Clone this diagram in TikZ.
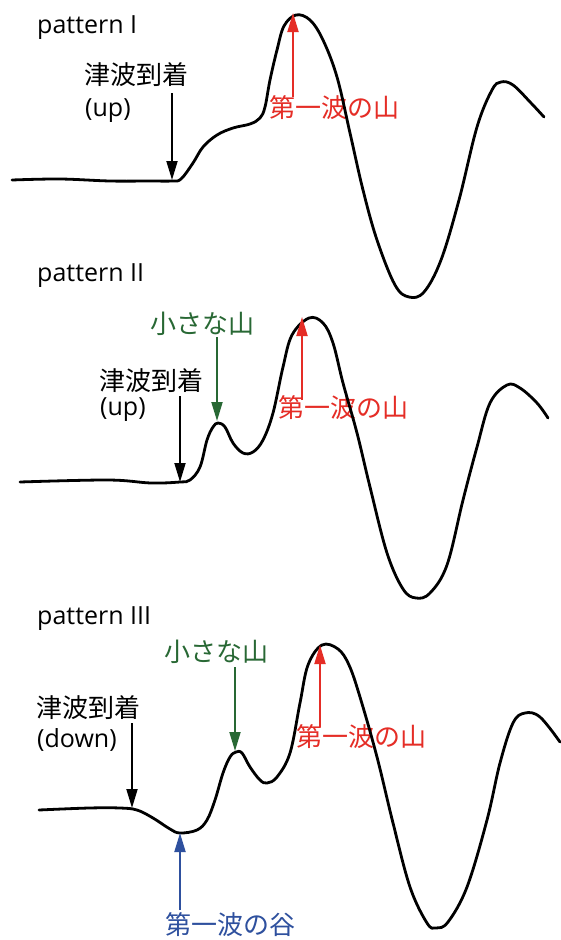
\documentclass[tikz,border=0pt]{standalone}
\usepackage{fontspec}
\setmainfont{Noto Sans CJK JP}
\newfontfamily\latinfont{Open Sans}
\usetikzlibrary{arrows.meta}
\definecolor{cred}{RGB}{229,45,38}
\definecolor{cgreen}{RGB}{40,104,52}
\definecolor{cblue}{RGB}{46,80,158}
\begin{document}
\begin{tikzpicture}[x=1pt,y=-1pt,
  wave/.style={line width=2.8pt, line cap=round, line join=round},
  arr/.style={line width=1.9pt, -{Triangle[length=19pt,width=11pt]}},
  lbl/.style={font=\fontsize{26}{30}\selectfont, inner sep=0pt, anchor=west},
  lat/.style={font=\latinfont\fontsize{25}{30}\selectfont, inner sep=0pt, anchor=west}]
\useasboundingbox[fill=white] (0,0) rectangle (560,940);

% ---------- pattern I ----------
\node[lat] (pat1) at (37,28) {pattern I};
\node[lbl] (t1a) at (84,75) {津波到着};
\node[lat] (t1b) at (85,111) {(up)};
\node[lbl,text=cred] (r1) at (269,108) {第一波の山};
\draw[wave] plot[smooth,tension=0.6] coordinates {(12,180) (60,179) (110,181) (150,181) (172,181) (181,179) (193,163) (203,147) (217,135) (233,128) (250,124) (260,118) (265,107) (270,80) (277,50) (284,26) (296,15) (310,20) (323,40) (337,77) (350,133) (363,190) (377,240) (395,285) (409,297) (424,292) (441,260) (459,200) (477,127) (492,90) (501,82) (513,85) (531,103) (544,117)};
\coordinate (a1s) at (172,93);   \coordinate (a1e) at (172,180);
\coordinate (r1s) at (293,97);   \coordinate (r1e) at (293,13);
\draw[arr] (a1s) -- (a1e);
\draw[arr,cred] (r1s) -- (r1e);

% ---------- pattern II ----------
\node[lat] (pat2) at (37,276) {pattern II};
\node[lbl] (t2a) at (99,381) {津波到着};
\node[lat] (t2b) at (100,410) {(up)};
\node[lbl,text=cgreen] (g2) at (150,324) {小さな山};
\node[lbl,text=cred] (r2) at (278,408) {第一波の山};
\draw[wave] plot[smooth,tension=0.6] coordinates {(20,482) (108,480) (151,483) (180,482) (190,480) (200,467) (207,440) (213,427) (218,423) (225,427) (233,443) (243,453) (253,452) (263,440) (273,413) (283,367) (292,335) (309,318) (323,323) (333,343) (343,383) (357,433) (370,487) (387,553) (403,589) (416,598) (430,593) (447,565) (463,500) (477,447) (490,403) (507,385) (520,388) (537,403) (548,418)};
\coordinate (a2s) at (180,396);  \coordinate (a2e) at (180,482);
\coordinate (g2s) at (217,337);  \coordinate (g2e) at (217,421);
\coordinate (r2s) at (302,400);  \coordinate (r2e) at (302,317);
\draw[arr] (a2s) -- (a2e);
\draw[arr,cgreen] (g2s) -- (g2e);
\draw[arr,cred] (r2s) -- (r2e);

% ---------- pattern III ----------
\node[lat] (pat3) at (37,619) {pattern III};
\node[lbl] (t3a) at (36,708) {津波到着};
\node[lat] (t3b) at (37,740) {(down)};
\node[lbl,text=cgreen] (g3) at (164,652) {小さな山};
\node[lbl,text=cred] (r3) at (296,737) {第一波の山};
\node[lbl,text=cblue] (b3) at (165,925) {第一波の谷};
\draw[wave] plot[smooth,tension=0.6] coordinates {(39,810) (89,808) (120,808) (137,810) (153,818) (170,829) (180,833) (197,830) (207,820) (215,800) (223,773) (230,757) (236,752) (242,753) (250,767) (260,780) (267,783) (277,777) (290,753) (300,703) (308,665) (322,645) (338,649) (349,665) (360,697) (377,757) (393,823) (410,887) (427,923) (436,928) (448,922) (467,887) (487,820) (500,763) (513,723) (525,713) (540,717) (560,742)};
\coordinate (a3s) at (132,723);  \coordinate (a3e) at (132,808);
\coordinate (g3s) at (235,667);  \coordinate (g3e) at (235,751);
\coordinate (r3s) at (320,727);  \coordinate (r3e) at (320,645);
\coordinate (b3s) at (180,910);  \coordinate (b3e) at (180,833);
\draw[arr] (a3s) -- (a3e);
\draw[arr,cgreen] (g3s) -- (g3e);
\draw[arr,cred] (r3s) -- (r3e);
\draw[arr,cblue] (b3s) -- (b3e);
\end{tikzpicture}
\end{document}
